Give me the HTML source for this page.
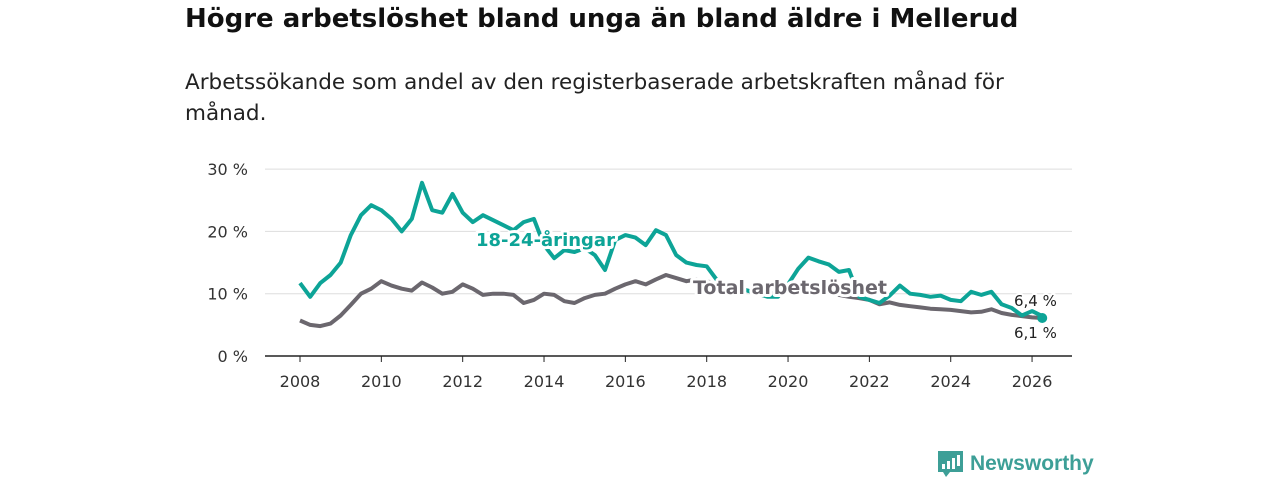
<!DOCTYPE html>
<html><head><meta charset="utf-8"><style>
body{margin:0;width:1280px;height:480px;background:#fff;font-family:"DejaVu Sans","Liberation Sans",sans-serif;overflow:hidden}
h1{position:absolute;left:185px;top:4px;margin:0;font-size:26px;font-weight:bold;color:#111}
p{position:absolute;left:185px;top:67px;margin:0;font-size:21.5px;line-height:31px;color:#222;width:850px}
svg{position:absolute;left:0;top:0}
</style></head><body>
<h1>Högre arbetslöshet bland unga än bland äldre i Mellerud</h1>
<p>Arbetssökande som andel av den registerbaserade arbetskraften månad för månad.</p>
<svg id="c" width="1280" height="480"></svg>
<script>
const years=[2008,2008.25,2008.5,2008.75,2009,2009.25,2009.5,2009.75,2010,2010.25,2010.5,2010.75,2011,2011.25,2011.5,2011.75,2012,2012.25,2012.5,2012.75,2013,2013.25,2013.5,2013.75,2014,2014.25,2014.5,2014.75,2015,2015.25,2015.5,2015.75,2016,2016.25,2016.5,2016.75,2017,2017.25,2017.5,2017.75,2018,2018.25,2018.5,2018.75,2019,2019.25,2019.5,2019.75,2020,2020.25,2020.5,2020.75,2021,2021.25,2021.5,2021.75,2022,2022.25,2022.5,2022.75,2023,2023.25,2023.5,2023.75,2024,2024.25,2024.5,2024.75,2025,2025.25,2025.5,2025.75,2026,2026.25];
const youth=[11.7,9.5,11.7,13,15,19.4,22.6,24.2,23.4,22,20,22,27.8,23.4,23,26,23,21.5,22.6,21.8,21,20.2,21.5,22,17.8,15.7,17,16.7,17.3,16.2,13.8,18.6,19.4,19,17.8,20.2,19.4,16.2,15,14.6,14.4,12.2,11.5,11,10.5,10,9.5,9.5,11.5,14,15.8,15.2,14.7,13.5,13.8,9.5,9,8.5,9.7,11.3,10,9.8,9.5,9.7,9,8.8,10.3,9.8,10.3,8.3,7.7,6.5,7.2,6.4];
const total=[5.7,5,4.8,5.2,6.5,8.2,10,10.8,12,11.3,10.8,10.5,11.8,11,10,10.3,11.5,10.8,9.8,10,10,9.8,8.5,9,10,9.8,8.8,8.5,9.3,9.8,10,10.8,11.5,12,11.5,12.3,13,12.5,12,12.3,12,11.5,11.3,11,10.5,10.2,10,10.2,10.5,10.8,10.8,10.3,10.3,9.8,9.5,9.3,9,8.3,8.6,8.2,8,7.8,7.6,7.5,7.4,7.2,7,7.1,7.5,6.9,6.6,6.4,6.2,6.1];
const yTicks=[0,10,20,30];
const xTicks=[2008,2010,2012,2014,2016,2018,2020,2022,2024,2026];
const NS='http://www.w3.org/2000/svg',svg=document.getElementById('c');
const X=v=>300+(v-2008)*40.67, Y=v=>356-v*6.23;
function mk(t,a,p){const e=document.createElementNS(NS,t);for(const k in a)e.setAttribute(k,a[k]);(p||svg).appendChild(e);return e;}
yTicks.forEach(v=>{
 const l=mk('line',{x1:265,x2:1072,y1:Y(v),y2:Y(v),stroke:v?'#ddd':'#222','stroke-width':v?1:1.5});
 
 
 const t=mk('text',{x:248,y:Y(v)+6,'text-anchor':'end','font-size':16,fill:'#333'});t.textContent=v+' %';
 
 
});
xTicks.forEach(v=>{
 const l=mk('line',{x1:X(v),x2:X(v),y1:356,y2:362,stroke:'#222'});
 
 
 const t=mk('text',{x:X(v),y:387,'text-anchor':'middle','font-size':16,fill:'#333'});t.textContent=v;
 
 
});
function line(d,c,n){const p=mk('path',{d:d.map((v,i)=>(i?'L':'M')+X(years[i]).toFixed(1)+','+Y(v).toFixed(1)).join(''),fill:'none',stroke:c,'stroke-width':4,'stroke-linejoin':'round'});
 
 }
line(total,'#6b676e','total-line');
line(youth,'#0da497','youth-line');
const last=years.length-1;
const dot=mk('circle',{cx:X(years[last]),cy:Y(total[last]),r:5,fill:'#0da497'});


function lab(x,y,s,c,n,sz,w){const t=mk('text',{x:x,y:y,'font-size':sz,'font-weight':w,fill:c,stroke:'#fff','stroke-width':w=='bold'?6:4,'paint-order':'stroke','stroke-linejoin':'round'});t.textContent=s;
 
 }
lab(476,246,'18-24-åringar','#0da497','youth-label',18,'bold');
lab(693,294,'Total arbetslöshet','#6b676e','total-label',19,'bold');
lab(1014,306,String(youth[last]).replace('.',',')+' %','#222','youth-end-value',15,'normal');
lab(1014,338,String(total[last]).replace('.',',')+' %','#222','total-end-value',15,'normal');
const g=mk('g',{});


mk('path',{d:'M938 451h25v21h-13l-4 5-3-5h-5z',fill:'#3d9f97'},g);
mk('rect',{x:942,y:464,width:3,height:5,fill:'#fff'},g);
mk('rect',{x:947,y:461,width:3,height:8,fill:'#fff'},g);
mk('rect',{x:952,y:458,width:3,height:11,fill:'#fff'},g);
mk('rect',{x:957,y:455,width:3,height:11,fill:'#fff'},g);
const lt=mk('text',{x:970,y:470,'font-size':21,fill:'#3d9f97','font-family':'Liberation Sans, sans-serif','font-weight':'bold'},g);lt.textContent='Newsworthy';
</script>
</body></html>
